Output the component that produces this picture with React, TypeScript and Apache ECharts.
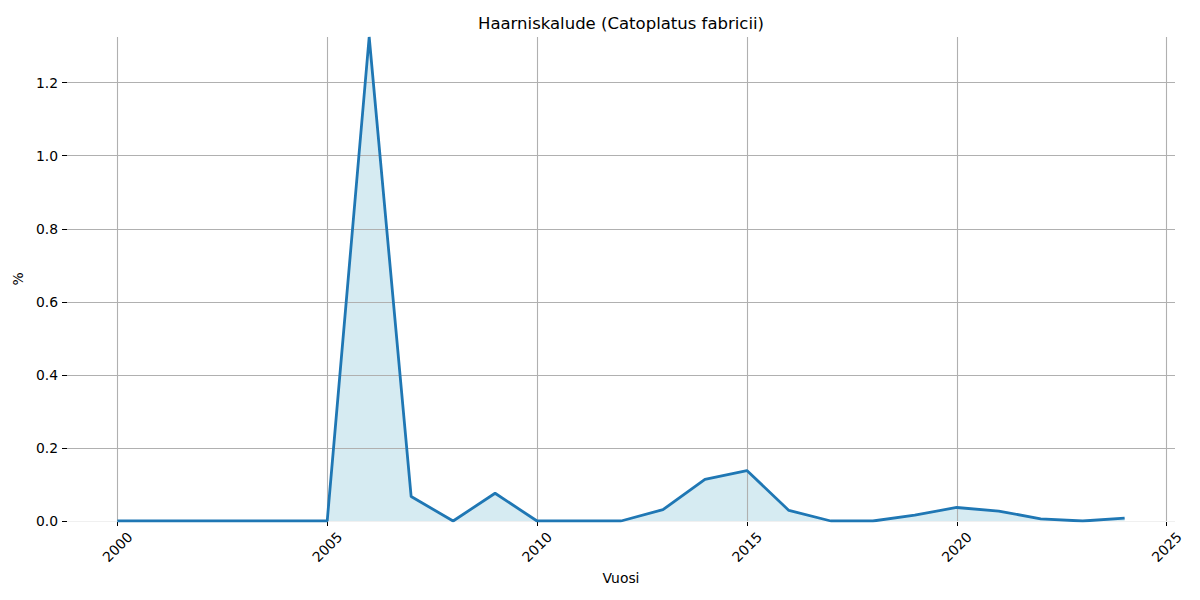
import React, { useEffect, useRef } from "react";
import * as echarts from "echarts";

const years = [2000, 2001, 2002, 2003, 2004, 2005, 2006, 2007, 2008, 2009, 2010, 2011, 2012, 2013, 2014, 2015, 2016, 2017, 2018, 2019, 2020, 2021, 2022, 2023, 2024];
const values = [0, 0, 0, 0, 0, 0, 1.325, 0.067, 0, 0.076, 0, 0, 0, 0.031, 0.114, 0.138, 0.029, 0, 0, 0.016, 0.037, 0.027, 0.006, 0, 0.008];
const xTicks = [2000, 2005, 2010, 2015, 2020, 2025];
const yTicks = [0, 0.2, 0.4, 0.6, 0.8, 1.0, 1.2];
const title = "Haarniskalude (Catoplatus fabricii)";
const xName = "Vuosi";
const yName = "%";

const FONT = "DejaVu Sans";
const GRID = "#b0b0b0";

export default function App() {
  const ref = useRef<HTMLDivElement>(null);
  useEffect(() => {
    document.body.style.margin = "0";
    const chart = echarts.init(ref.current!, null, { renderer: "svg" });
    const pts = years.map((y, i) => [y, values[i]]);
    const gridLines = [
      ...xTicks.map((v) => ({ xAxis: v, lineStyle: { color: GRID, width: 1.1, type: "solid" } })),
      ...yTicks.map((v) => ({ yAxis: v, lineStyle: { color: v === 0 ? "#f0f0f0" : GRID, width: 1.1, type: "solid" } })),
    ];
    chart.setOption({
      animation: false,
      title: {
        text: title,
        left: 616,
        top: 10,
        textAlign: "center",
        textStyle: { fontFamily: FONT, fontSize: 16.5, fontWeight: "normal", color: "#000" },
      },
      grid: { left: 67, right: 25, top: 37, bottom: 79, containLabel: false },
      xAxis: {
        type: "value",
        min: 1998.8,
        max: 2025.2,
        name: xName,
        nameLocation: "middle",
        nameGap: 50,
        nameTextStyle: { fontFamily: FONT, fontSize: 13.9, color: "#000" },
        axisLine: { show: false },
        splitLine: { show: false },
        axisTick: { show: true, customValues: xTicks, length: 5, lineStyle: { color: "#000" } },
        axisLabel: {
          customValues: xTicks,
          rotate: 45,
          align: "center",
          verticalAlign: "middle",
          fontFamily: FONT,
          fontSize: 13.9,
          color: "#000",
          margin: 26,
          formatter: (v: number) => String(Math.round(v)),
        },
      },
      yAxis: {
        type: "value",
        min: 0,
        max: 1.325,
        name: yName,
        nameLocation: "middle",
        nameGap: 38,
        nameTextStyle: { fontFamily: FONT, fontSize: 13.9, color: "#000" },
        axisLine: { show: false },
        splitLine: { show: false },
        axisTick: { show: true, customValues: yTicks, length: 5, lineStyle: { color: "#000" } },
        axisLabel: {
          customValues: yTicks,
          fontFamily: FONT,
          fontSize: 13.9,
          color: "#000",
          margin: 9,
          formatter: (v: number) => v.toFixed(1),
        },
      },
      series: [
        {
          type: "line",
          data: pts,
          z: 1,
          symbol: "none",
          lineStyle: { width: 0 },
          areaStyle: { color: "rgba(173,216,230,0.5)", opacity: 1, origin: 0 },
          silent: true,
          markLine: {
            silent: true,
            symbol: ["none", "none"],
            label: { show: false },
            data: gridLines,
            animation: false,
          },
        },
        {
          type: "line",
          data: pts,
          z: 5,
          symbol: "none",
          lineStyle: { color: "#1f77b4", width: 2.8 },
        },
      ],
    });
    return () => chart.dispose();
  }, []);
  return <div ref={ref} style={{ width: 1200, height: 600 }} />;
}
